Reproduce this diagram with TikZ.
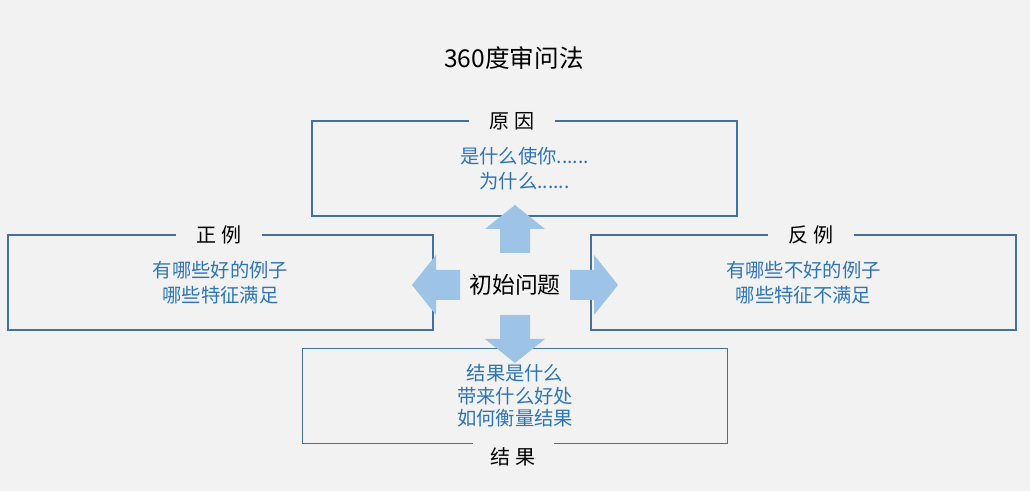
\documentclass[tikz,border=0pt]{standalone}
\usepackage{fontspec}
\usepackage{xcolor}
\newfontfamily\cjk{Noto Sans CJK SC}
\usetikzlibrary{positioning}
\definecolor{bgGray}{RGB}{242,242,242}
\definecolor{lineBlue}{RGB}{65,113,156}
\definecolor{textBlue}{RGB}{46,117,182}
\definecolor{arrowBlue}{RGB}{157,195,230}
\begin{document}
\begin{tikzpicture}[
    box/.style = {
        draw=lineBlue, line width=1pt, minimum width=8.5cm, minimum height=1.9cm,
        align=center, text=textBlue, font=\cjk\fontsize{11}{14.2}\selectfont
    },
    tag/.style = {
        fill=bgGray, inner xsep=0.42cm, inner ysep=1pt,
        font=\cjk\fontsize{11.4}{13}\selectfont
    },
    blockarrow/.pic = {
        \fill[arrowBlue] (0,-0.3) -- (0.48,-0.3) -- (0.48,-0.6) -- (0.96,0)
            -- (0.48,0.6) -- (0.48,0.3) -- (0,0.3) -- cycle;
    }
  ]
    \fill[bgGray] (0,0) rectangle (20.6,9.82);
    \useasboundingbox (0,0) rectangle (20.6,9.82);

    \node[font=\cjk\fontsize{14}{16}\selectfont] (title) at (10.28,8.66) {360度审问法};  % 标题

    \node[box] (cause) at (10.49,6.45) {是什么使你......\\为什么......};  % 原因
    \node[tag] at (10.24,7.4) {原 因};

    \node[box] (good) at (4.41,4.17) {有哪些好的例子\\哪些特征满足};  % 正例
    \node[tag] at (4.38,5.12) {正 例};

    \node[box] (bad) at (16.07,4.17) {有哪些不好的例子\\哪些特征不满足};  % 反例
    \node[tag] at (16.22,5.12) {反 例};

    \node[box, font=\cjk\fontsize{11}{12.8}\selectfont] (result) at (10.3,1.9)
        {结果是什么\\带来什么好处\\如何衡量结果};  % 结果
    \node[fill=bgGray, inner sep=0, minimum width=1.62cm, minimum height=0.3cm]
        (resultGap) at ([xshift=-0.04cm]result.south) {};  % 线上的缺口
    \node[tag, fill=none] (resultTag) at (10.26,0.68) {结 果};  % 标签在线下方

    \node[font=\cjk\fontsize{13}{15}\selectfont] (start) at (10.3,4.12) {初始问题};  % 中心

    % 四个方向的箭头
    \pic[rotate=90]  at ([yshift=0.64cm]start.center) {blockarrow};
    \pic[rotate=-90] at ([yshift=-0.6cm]start.center) {blockarrow};
    \pic[rotate=180] at ([xshift=-1.1cm]start.center) {blockarrow};
    \pic             at ([xshift=1.1cm]start.center) {blockarrow};
\end{tikzpicture}
\end{document}
